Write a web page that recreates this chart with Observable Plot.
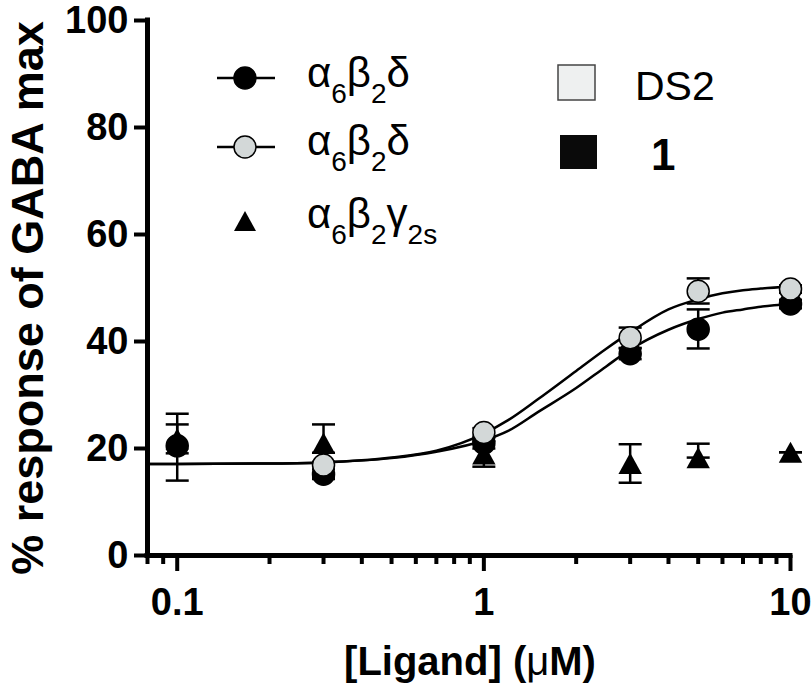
<!DOCTYPE html>
<html><head><meta charset="utf-8">
<script src="https://cdn.jsdelivr.net/npm/d3@7"></script>
<script src="https://cdn.jsdelivr.net/npm/@observablehq/plot@0.6"></script>
<style>body{margin:0;background:#fff}</style>
</head><body><div id="chart"></div>
<script>
// ---- data ----
const conc = [0.1, 0.3, 1, 3, 5, 10];
// compound 1 on α6β2δ (black circles)
const blackMean = [20.5, 15.2, 21.0, 37.7, 42.3, 47.0];
const blackHi   = [26.5, 16.1, 22.0, 38.7, 46.0, 47.8];
const blackLo   = [14.0, 14.3, 20.0, 36.7, 38.7, 46.2];
// DS2 on α6β2δ (grey circles)
const grayConc = [0.3, 1, 3, 5, 10];
const grayMean = [16.9, 23.0, 40.7, 49.4, 49.8];
const grayHi   = [19.2, 23.8, 42.6, 51.8, 50.5];
const grayLo   = [14.6, 22.2, 38.8, 47.1, 49.1];
// α6β2γ2s (triangles)
const triMean = [21.8, 21.0, 19.0, 17.2, 18.3, 19.3];
const triHi   = [24.5, 24.5, 21.4, 20.8, 20.9, 19.3];
const triLo   = [19.1, 17.5, 16.6, 13.6, 18.3, 19.3];
// fitted curves
const curveConc  = [0.08, 0.1, 0.2, 0.3, 0.5, 0.7, 1, 1.2, 1.5, 2, 2.5, 3, 4, 5, 6, 7, 8, 10];
const grayCurve  = [17.1,17.1,17.2,17.4,18.3,19.6,22.8,25.3,29.2,34.5,38.6,41.7,46.0,47.9,49.0,49.6,49.9,50.3];
const blackCurve = [17.1,17.1,17.2,17.4,18.2,19.4,21.5,23.3,26.8,31.3,35.3,38.5,42.2,44.2,45.4,46.0,46.5,47.0];
// ticks
const yTicks = [0, 20, 40, 60, 80, 100];
const xMajor = [0.1, 1, 10];
const xMinor = [0.08, 0.09, 0.2, 0.3, 0.4, 0.5, 0.6, 0.7, 0.8, 0.9, 2, 3, 4, 5, 6, 7, 8, 9];
const xLabel = "[Ligand] (μM)";
const yLabel = "% response of GABA max";

const GRAY = "#d3d8d8";
const FONT = "'Liberation Sans', Arial, Helvetica, sans-serif";

const capSym = {draw(ctx, size) { const w = Math.sqrt(size / Math.PI); ctx.moveTo(-w, 0); ctx.lineTo(w, 0); }};
const triSym = {draw(ctx, size) { const r = Math.sqrt(size / Math.PI); ctx.moveTo(0, -1.18 * r); ctx.lineTo(1.3 * r, 1.18 * r); ctx.lineTo(-1.3 * r, 1.18 * r); ctx.closePath(); }};

function errMarks(xs, lo, hi) {
  return [
    Plot.ruleX(xs, {x: xs, y1: lo, y2: hi, stroke: "black", strokeWidth: 2.5}),
    Plot.dot(xs, {x: xs, y: hi, symbol: capSym, r: 11.5, fill: "none", stroke: "black", strokeWidth: 2.5}),
    Plot.dot(xs, {x: xs, y: lo, symbol: capSym, r: 11.5, fill: "none", stroke: "black", strokeWidth: 2.5})
  ];
}

const plot = Plot.plot({
  width: 812, height: 688,
  marginLeft: 147, marginRight: 22, marginTop: 20, marginBottom: 133,
  style: {fontFamily: FONT, fontSize: "38px", fontWeight: "bold", color: "black", background: "white"},
  x: {type: "log", domain: [0.08, 10], label: null},
  y: {domain: [0, 100], label: null},
  marks: [
    Plot.axisY({ticks: yTicks, tickSize: 13, tickPadding: 6, strokeWidth: 4, label: null, fontSize: 38, fontWeight: "bold"}),
    Plot.axisX({ticks: xMinor, tickSize: 9, strokeWidth: 4, tickFormat: () => "", label: null}),
    Plot.axisX({ticks: xMajor, tickSize: 16, tickPadding: 17, strokeWidth: 4, tickFormat: d => String(d), label: null, fontSize: 38, fontWeight: "bold"}),
    Plot.ruleX([0.08], {y1: 0, y2: 100, stroke: "black", strokeWidth: 5, strokeLinecap: "square"}),
    Plot.ruleY([0], {x1: 0.08, x2: 10, stroke: "black", strokeWidth: 5, strokeLinecap: "square"}),
    Plot.line(curveConc, {x: curveConc, y: blackCurve, curve: "monotone-x", stroke: "black", strokeWidth: 2.5}),
    Plot.line(curveConc, {x: curveConc, y: grayCurve, curve: "monotone-x", stroke: "black", strokeWidth: 2.5}),
    ...errMarks(conc, triLo, triHi),
    Plot.dot(conc, {x: conc, y: triMean, symbol: triSym, r: 9, fill: "black", stroke: "none"}),
    ...errMarks(conc, blackLo, blackHi),
    Plot.dot(conc, {x: conc, y: blackMean, r: 11, fill: "black", stroke: "black", strokeWidth: 1.5}),
    ...errMarks(grayConc, grayLo, grayHi),
    Plot.dot(grayConc, {x: grayConc, y: grayMean, r: 11, fill: GRAY, stroke: "black", strokeWidth: 1.5})
  ]
});
document.getElementById("chart").appendChild(plot);

// ---- titles and legend ----
const svg = d3.select(plot);
svg.append("text").attr("transform", "translate(43,298) rotate(-90)")
  .attr("text-anchor", "middle").attr("font-family", FONT).attr("font-weight", "bold")
  .attr("font-size", 45).attr("fill", "black").text(yLabel);
const xl = svg.append("text").attr("x", 470).attr("y", 675)
  .attr("text-anchor", "middle").attr("font-family", FONT).attr("font-weight", "bold")
  .attr("font-size", 40).attr("fill", "black");
xl.append("tspan").text("[Ligand] (");
xl.append("tspan").attr("font-weight", "normal").text("μ");
xl.append("tspan").text("M)");

const lg = svg.append("g").attr("font-family", FONT).attr("fill", "black").attr("text-anchor", "start");
function greek(y, parts) {
  const t = lg.append("text").attr("x", 307).attr("y", y).attr("font-size", 42).attr("font-weight", "normal").attr("text-anchor", "start");
  let sub = false;
  parts.forEach(([s, isSub]) => {
    const ts = t.append("tspan").text(s);
    if (isSub && !sub) { ts.attr("dy", 16).attr("font-size", 28); sub = true; }
    else if (isSub) { ts.attr("font-size", 28); }
    else if (!isSub && sub) { ts.attr("dy", -16); sub = false; }
  });
}
// row 1
lg.append("line").attr("x1", 217).attr("x2", 275).attr("y1", 78).attr("y2", 78).attr("stroke", "black").attr("stroke-width", 2.5);
lg.append("circle").attr("cx", 245).attr("cy", 78).attr("r", 11).attr("fill", "black").attr("stroke", "black").attr("stroke-width", 1.5);
greek(87, [["α"], ["6", true], ["β"], ["2", true], ["δ"]]);
// row 2
lg.append("line").attr("x1", 217).attr("x2", 275).attr("y1", 147).attr("y2", 147).attr("stroke", "black").attr("stroke-width", 2.5);
lg.append("circle").attr("cx", 245).attr("cy", 147).attr("r", 11).attr("fill", GRAY).attr("stroke", "black").attr("stroke-width", 1.5);
greek(155, [["α"], ["6", true], ["β"], ["2", true], ["δ"]]);
// row 3
lg.append("path").attr("transform", "translate(245,221)").attr("d", "M0,-10L11,10L-11,10Z").attr("fill", "black");
greek(228, [["α"], ["6", true], ["β"], ["2", true], ["γ"], ["2s", true]]);
// compound key
lg.append("rect").attr("x", 558).attr("y", 65).attr("width", 37).attr("height", 35).attr("fill", "#eef0f0").attr("stroke", "#444").attr("stroke-width", 1.5);
lg.append("rect").attr("x", 560).attr("y", 135).attr("width", 37).attr("height", 34).attr("fill", "#0a0a0a");
lg.append("text").attr("x", 635).attr("y", 100).attr("font-size", 41).attr("font-weight", "normal").attr("text-anchor", "start").text("DS2");
lg.append("text").attr("x", 651).attr("y", 170).attr("font-size", 44).attr("font-weight", "bold").attr("text-anchor", "start").text("1");
</script>
</body></html>
